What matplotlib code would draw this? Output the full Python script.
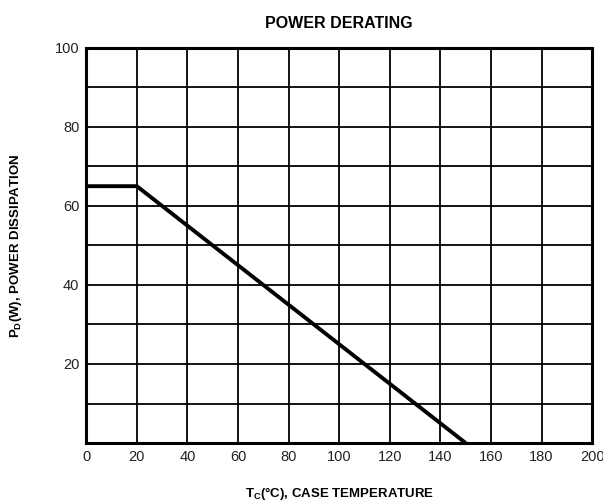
import matplotlib
matplotlib.use("Agg")
import matplotlib.pyplot as plt

# derating curve: flat 65 W up to 20 C, then linear down to 0 at 150 C
temp_c = [0, 20, 150]
power_w = [65, 65, 0]

x_ticks = list(range(0, 201, 20))
y_grid = list(range(0, 101, 10))
y_labels = ["" if (v % 20 or v == 0) else str(v) for v in y_grid]

plt.rcParams['font.family'] = ['Liberation Sans', 'DejaVu Sans']
plt.rcParams['mathtext.default'] = 'regular'

fig = plt.figure(figsize=(6.03, 5.04), dpi=100)
ax = fig.add_axes([0.143, 0.121, 0.839, 0.784])

ax.plot(temp_c, power_w, color='black', linewidth=2.8, solid_capstyle='butt', zorder=3)

ax.set_xlim(0, 200)
ax.set_ylim(0, 100)
ax.set_xticks(x_ticks)
ax.set_yticks(y_grid)
ax.set_yticklabels(y_labels)
ax.grid(True, color='black', linewidth=1.3)
ax.tick_params(length=0, labelsize=10.5, colors='#222222', pad=5)
for s in ax.spines.values():
    s.set_linewidth(2.2)

ax.set_title('POWER DERATING', fontsize=11.5, fontweight='bold', pad=14)
ax.set_xlabel('T$_C$(°C), CASE TEMPERATURE', fontsize=9.5, fontweight='bold', labelpad=15)
ax.set_ylabel('P$_D$(W), POWER DISSIPATION', fontsize=9.5, fontweight='bold', labelpad=22)

fig.savefig('out.png', dpi=100)
